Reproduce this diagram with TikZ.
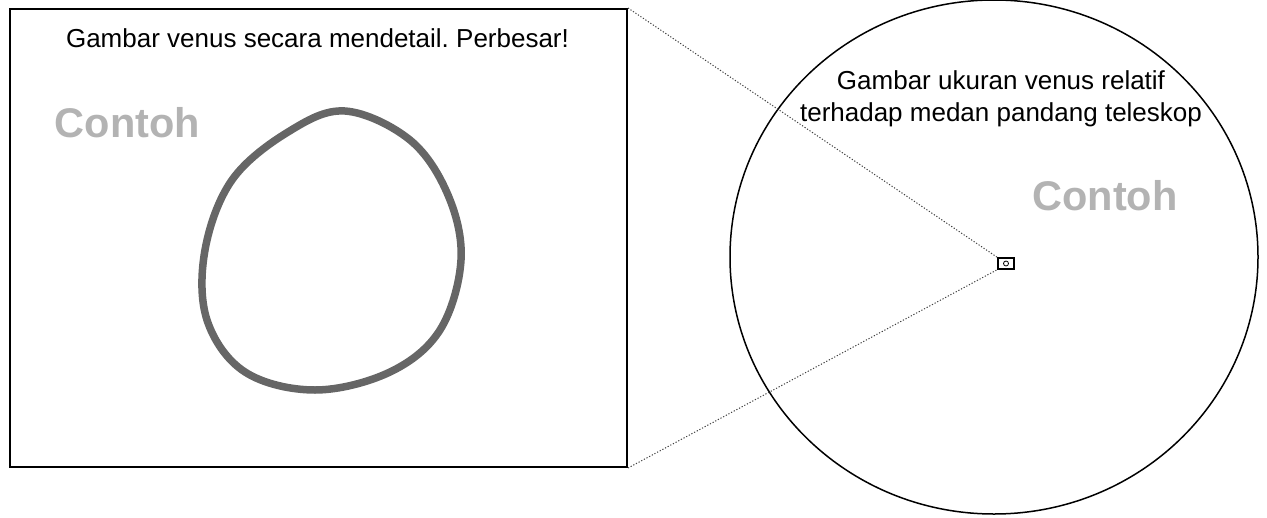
\documentclass[tikz,border=0pt]{standalone}
\usepackage{fontspec}
\setmainfont{Liberation Sans}
\usetikzlibrary{shapes.geometric}
\definecolor{venusgray}{HTML}{666666}
\definecolor{samplegray}{HTML}{B3B3B3}
\frenchspacing
\begin{document}
\begin{tikzpicture}[x=1pt,y=-1pt,
  frame/.style={draw=black, line width=2pt, inner sep=0pt},
  lbl/.style={font=\fontsize{26}{32}\selectfont, inner sep=0pt, align=center},
  sample/.style={font=\fontsize{41.5}{48}\selectfont\bfseries, text=samplegray, inner sep=0pt},
  zoomline/.style={draw=black!75, line width=1pt, dash pattern=on 1.2pt off 1.8pt},
  venusline/.style={draw=venusgray, line width=7.5pt}]
\useasboundingbox (0,0) rectangle (1267,517);
% left detail frame
\node[frame, minimum width=617pt, minimum height=458pt, anchor=north west] (leftbox) at (9,8) {};
% telescope field of view
\node[draw=black, ellipse, line width=1.5pt, minimum width=528pt, minimum height=514pt, inner sep=0pt] (fov) at (994,257) {};
% small venus in field
\node[draw=black, line width=1.2pt, minimum width=16pt, minimum height=11pt, inner sep=0pt] (mini) at (1006,263.5) {};
\node[draw=black, circle, line width=0.8pt, minimum size=5pt, inner sep=0pt] (minivenus) at (mini.center) {};
% zoom lines
\draw[zoomline] (leftbox.north east) -- (mini.north west);
\draw[zoomline] (leftbox.south east) -- (mini.south west);
% texts
\node[lbl, anchor=base] (ttl) at (317.5,47) {Gambar venus secara mendetail. Perbesar!};
\node[lbl, anchor=base] (fovlbl) at (1001,121) {Gambar ukuran venus relatif\\terhadap medan pandang teleskop};
\node[sample, anchor=base] (contohL) at (127.5,137) {Contoh};
\node[sample, anchor=base] (contohR) at (1105,210) {Contoh};
% venus outline
\draw[venusline] plot[smooth cycle, tension=0.6] coordinates {
  (345,111) (410,140) (448,195) (461,260) (440,330) (390,372) (315,390)
  (245,372) (207,320) (205,250) (232,180) (288,132)};
\end{tikzpicture}
\end{document}
